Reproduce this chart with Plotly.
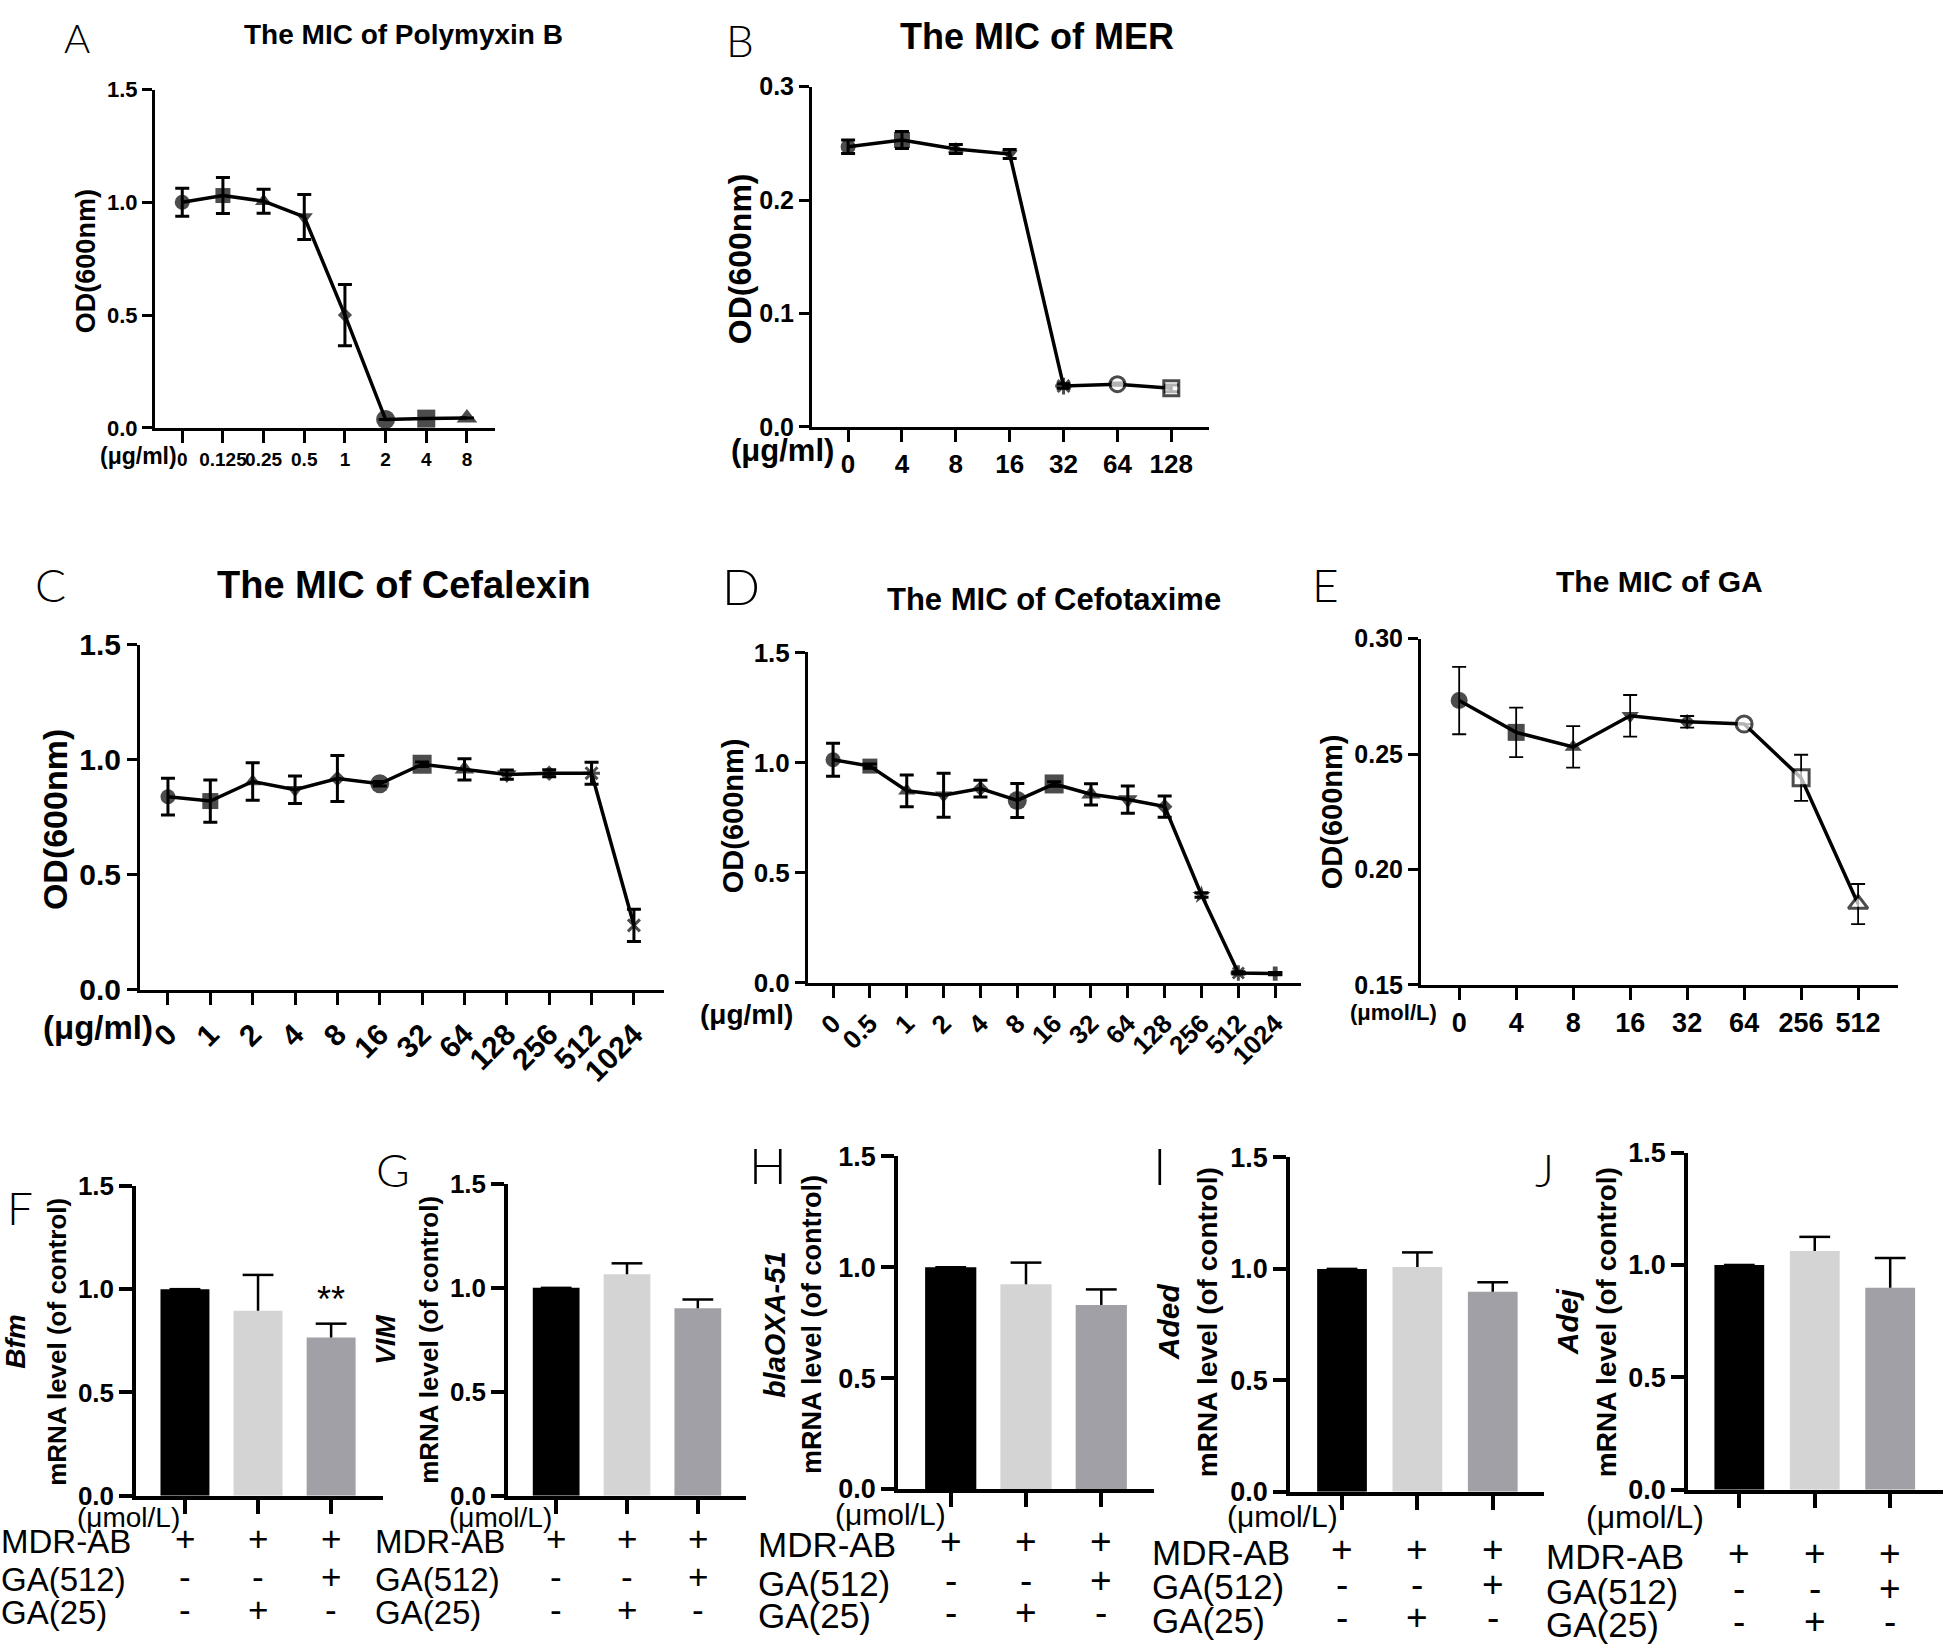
import plotly.graph_objects as go

W, H = 1944, 1651
FONT = "Liberation Sans, Arial, Helvetica, sans-serif"
LFONT = "Lato, Liberation Sans, sans-serif"

# ---------------- data ----------------
a_conc = ["0", "0.125", "0.25", "0.5", "1", "2", "4", "8"]
a_od = [1.00, 1.03, 1.005, 0.935, 0.50, 0.037, 0.041, 0.044]
a_err = [0.062, 0.08, 0.053, 0.10, 0.136, 0.0, 0.0, 0.0]

b_conc = ["0", "4", "8", "16", "32", "64", "128"]
b_od = [0.247, 0.253, 0.245, 0.2405, 0.036, 0.0376, 0.034]
b_err = [0.006, 0.0075, 0.004, 0.004, 0.002, 0.001, 0.003]

c_conc = ["0", "1", "2", "4", "8", "16", "32", "64", "128", "256", "512", "1024"]
c_od = [0.839, 0.82, 0.905, 0.869, 0.918, 0.895, 0.98, 0.958, 0.935, 0.941, 0.941, 0.28]
c_err = [0.08, 0.092, 0.081, 0.06, 0.10, 0.01, 0.01, 0.046, 0.02, 0.015, 0.048, 0.07]

d_conc = ["0", "0.5", "1", "2", "4", "8", "16", "32", "64", "128", "256", "512", "1024"]
d_od = [1.013, 0.984, 0.872, 0.852, 0.882, 0.828, 0.903, 0.856, 0.832, 0.80, 0.399, 0.045, 0.042]
d_err = [0.075, 0.01, 0.072, 0.10, 0.038, 0.077, 0.01, 0.048, 0.062, 0.048, 0.01, 0.005, 0.005]

e_conc = ["0", "4", "8", "16", "32", "64", "256", "512"]
e_od = [0.2732, 0.2594, 0.2531, 0.2666, 0.264, 0.263, 0.2397, 0.185]
e_err = [0.0146, 0.0107, 0.009, 0.009, 0.0025, 0.0, 0.010, 0.0087]

bar_groups = ["MDR-AB", "MDR-AB+GA(25)", "MDR-AB+GA(512)"]
row_names = ["MDR-AB", "GA(512)", "GA(25)"]
row_signs = [["+", "+", "+"], ["-", "-", "+"], ["-", "+", "-"]]

bfm = [1.0, 0.895, 0.766]
bfm_err = [0.0, 0.174, 0.067]
vim = [1.0, 1.066, 0.902]
vim_err = [0.0, 0.052, 0.042]
oxa = [1.0, 0.923, 0.830]
oxa_err = [0.0, 0.098, 0.070]
aded = [1.0, 1.009, 0.898]
aded_err = [0.0, 0.065, 0.042]
adej = [1.0, 1.062, 0.899]
adej_err = [0.0, 0.063, 0.132]

bar_colors = ["#000000", "#d4d4d4", "#a0a0a6"]

# ---------------- helpers ----------------
layout = dict(width=W, height=H, margin=dict(l=0, r=0, t=0, b=0), autosize=False,
              paper_bgcolor="white", plot_bgcolor="white", showlegend=False)
annotations = []
fig = go.Figure()
_count = [0]


def make_axes(x0, x1, ytop, ybot, cats, padl, padr, yr, dtick, fmt, yfs, xfs,
              xang=0, xlabels=True, lw=3, ylen=10, xlen=12):
    _count[0] += 1
    n = _count[0]
    s = "" if n == 1 else str(n)
    layout["xaxis" + s] = dict(
        domain=[x0 / W, x1 / W], anchor="y" + s, type="category",
        range=[-padl, len(cats) - 1 + padr], tickmode="array", tickvals=cats, ticktext=cats,
        showline=True, linecolor="black", linewidth=lw, ticks="outside", tickcolor="black",
        tickwidth=lw, ticklen=xlen, showgrid=False, zeroline=False,
        showticklabels=xlabels, tickangle=xang,
        tickfont=dict(family=FONT, size=xfs, color="black", weight="bold"))
    layout["yaxis" + s] = dict(
        domain=[1 - ybot / H, 1 - ytop / H], anchor="x" + s, range=yr, tick0=yr[0],
        dtick=dtick, tickformat=fmt, showline=True, linecolor="black", linewidth=lw,
        ticks="outside", tickcolor="black", tickwidth=lw, ticklen=ylen,
        showgrid=False, zeroline=False,
        tickfont=dict(family=FONT, size=yfs, color="black", weight="bold"))
    return "x" + s, "y" + s


def txt(s, x, y, size, bold=False, italic=False, angle=0, xanchor="center",
        yanchor="middle", family=FONT, weight=None):
    t = s
    if italic:
        t = "<i>" + t + "</i>"
    if bold:
        t = "<b>" + t + "</b>"
    f = dict(family=family, size=size, color="black")
    if weight is not None:
        f["weight"] = weight
    annotations.append(dict(text=t, x=x / W, y=1 - y / H, xref="paper", yref="paper",
                            showarrow=False, font=f, textangle=angle,
                            xanchor=xanchor, yanchor=yanchor, borderpad=0))


def line_panel(cats, vals, errs, syms, sizes, cols, mlw, axes, ethick=3, ewidth=7):
    xa, ya = axes
    fig.add_trace(go.Scatter(
        x=cats, y=vals, mode="lines+markers", xaxis=xa, yaxis=ya,
        line=dict(color="black", width=3.5),
        marker=dict(symbol=syms, size=sizes, color=cols, line=dict(color="black", width=mlw)),
        error_y=dict(type="data", array=errs, visible=True, color="black",
                     thickness=ethick, width=ewidth),
        cliponaxis=False, hoverinfo="skip"))


def bar_panel(vals, errs, axes, bw):
    xa, ya = axes
    fig.add_trace(go.Bar(
        x=bar_groups, y=vals, width=bw, xaxis=xa, yaxis=ya,
        marker=dict(color=bar_colors, line=dict(width=0)),
        error_y=dict(type="data", array=errs, arrayminus=[0] * len(errs), symmetric=False,
                     color="black", thickness=2.5, width=0, visible=True),
        hoverinfo="skip"))
    fig.add_trace(go.Scatter(
        x=bar_groups, y=[v + e for v, e in zip(vals, errs)], mode="markers",
        xaxis=xa, yaxis=ya,
        marker=dict(symbol="line-ew-open", size=22, color="black",
                    line=dict(color="black", width=2.5)),
        cliponaxis=False, hoverinfo="skip"))


# ---------------- panel A ----------------
axA = make_axes(155, 495, 75, 420, a_conc, 0.67, 0.69, [0, 1.5], 0.5, ".1f", 22, 19)
line_panel(a_conc, a_od, a_err,
           ["circle", "square", "triangle-up", "triangle-down", "diamond", "circle", "square", "triangle-up"],
           [15, 15, 15, 15, 11, 19, 18, 18], ["black"] * 8, [0] * 8, axA)
txt("A", 77, 22, 40, family=LFONT, weight=300)
txt("The MIC of Polymyxin B", 403, 19, 28, bold=True)
txt("OD(600nm)", 86, 250, 27, bold=True, angle=-90)
txt("(μg/ml)", 138, 449, 23, bold=True)

# ---------------- panel B ----------------
axB = make_axes(812, 1209, 72, 419, b_conc, 0.67, 0.70, [0, 0.3], 0.1, ".1f", 25, 26)
line_panel(b_conc, b_od, b_err,
           ["circle", "square", "triangle-up", "triangle-down", "asterisk-open", "circle", "square"],
           [15, 16, 14, 14, 14, 15, 15],
           ["black", "black", "black", "black", "black", "white", "white"],
           [0, 0, 0, 0, 3, 3, 3], axB)
txt("B", 740, 24, 44, family=LFONT, weight=300)
txt("The MIC of MER", 1037, 21, 36, bold=True)
txt("OD(600nm)", 740, 248, 32, bold=True, angle=-90)
txt("(μg/ml)", 782, 443, 31, bold=True)

# ---------------- panel C ----------------
axC = make_axes(140, 664, 641, 993, c_conc, 0.66, 0.71, [0, 1.5], 0.5, ".1f", 30, 30, xang=-45)
line_panel(c_conc, c_od, c_err,
           ["circle", "square", "triangle-up", "triangle-down", "diamond", "circle", "square",
            "triangle-up", "triangle-down", "diamond", "asterisk-open", "x-thin-open"],
           [15, 16, 15, 15, 12, 19, 19, 17, 17, 12, 14, 12], ["black"] * 12,
           [0] * 10 + [3, 3], axC)
txt("C", 50, 580, 46, family=LFONT, weight=300)
txt("The MIC of Cefalexin", 404, 580, 38, bold=True)
txt("OD(600nm)", 55, 820, 34, bold=True, angle=-90)
txt("(μg/ml)", 98, 1031, 33, bold=True)

# ---------------- panel D ----------------
axD = make_axes(808, 1301, 649, 986, d_conc, 0.68, 0.70, [0, 1.5], 0.5, ".1f", 26, 26, xang=-45)
line_panel(d_conc, d_od, d_err,
           ["circle", "square", "triangle-up", "triangle-down", "diamond", "circle", "square",
            "triangle-up", "triangle-down", "diamond", "star", "asterisk-open", "cross"],
           [15, 15, 15, 15, 12, 19, 19, 17, 17, 12, 14, 13, 12], ["black"] * 13,
           [0] * 11 + [3, 0], axD)
txt("D", 741, 581, 50, family=LFONT, weight=300)
txt("The MIC of Cefotaxime", 1054, 595, 31, bold=True)
txt("OD(600nm)", 733, 816, 29, bold=True, angle=-90)
txt("(μg/ml)", 746, 1018, 28, bold=True)

# ---------------- panel E ----------------
axE = make_axes(1421, 1898, 635, 988, e_conc, 0.67, 0.70, [0.15, 0.30], 0.05, ".2f", 25, 27)
line_panel(e_conc, e_od, e_err,
           ["circle", "square", "triangle-up", "triangle-down", "diamond", "circle", "square", "triangle-up"],
           [17, 17, 15, 15, 12, 16, 16, 17],
           ["black"] * 5 + ["white"] * 3, [0] * 5 + [3] * 3, axE, ethick=1.8, ewidth=7)
txt("E", 1325, 580, 46, family=LFONT, weight=300)
txt("The MIC of GA", 1659, 577, 30, bold=True)
txt("OD(600nm)", 1332, 812, 29, bold=True, angle=-90)
txt("(μmol/L)", 1393, 1016, 22, bold=True)

# ---------------- bar panels ----------------
bar_specs = [
    dict(letter="F", gene="Bfm", vals=bfm, errs=bfm_err, x0=136, x1=383, ytop=1193, ybot=1509,
         padl=0.67, padr=0.71, bw=0.67, lpos=(20, 1215), lsize=46, gx=16, mx=57, gy=1352,
         unit=(128, 1531), namex=0, rows=(1556, 1594, 1628), fs=33, ufs=28, yfs=26, tfs=26),
    dict(letter="G", gene="VIM", vals=vim, errs=vim_err, x0=508, x1=746, ytop=1191, ybot=1509,
         padl=0.68, padr=0.68, bw=0.66, lpos=(393, 1176), lsize=46, gx=386, mx=429, gy=1350,
         unit=(500, 1531), namex=374, rows=(1556, 1594, 1628), fs=33, ufs=28, yfs=26, tfs=26),
    dict(letter="H", gene="blaOXA-51", vals=oxa, errs=oxa_err, x0=898, x1=1154, ytop=1163, ybot=1502,
         padl=0.70, padr=0.70, bw=0.68, lpos=(768, 1172), lsize=50, gx=775, mx=812, gy=1335,
         unit=(890, 1528), namex=757, rows=(1559, 1598, 1631), fs=35, ufs=30, yfs=27, tfs=27),
    dict(letter="I", gene="Aded", vals=aded, errs=aded_err, x0=1290, x1=1544, ytop=1164, ybot=1505,
         padl=0.69, padr=0.68, bw=0.66, lpos=(1160, 1172), lsize=52, gx=1168, mx=1207, gy=1332,
         unit=(1282, 1530), namex=1151, rows=(1567, 1602, 1636), fs=35, ufs=30, yfs=27, tfs=28),
    dict(letter="J", gene="Adej", vals=adej, errs=adej_err, x0=1688, x1=1943, ytop=1159, ybot=1503,
         padl=0.68, padr=0.70, bw=0.66, lpos=(1544, 1176), lsize=46, gx=1567, mx=1606, gy=1332,
         unit=(1645, 1531), namex=1545, rows=(1571, 1607, 1640), fs=35, ufs=32, yfs=27, tfs=28),
]

for sp in bar_specs:
    ax = make_axes(sp["x0"], sp["x1"], sp["ytop"], sp["ybot"], bar_groups, sp["padl"], sp["padr"],
                   [0, 1.5], 0.5, ".1f", sp["yfs"], 20, xlabels=False, lw=3.5, ylen=13, xlen=14)
    bar_panel(sp["vals"], sp["errs"], ax, sp["bw"])
    txt(sp["letter"], sp["lpos"][0], sp["lpos"][1], sp["lsize"], family=LFONT, weight=300)
    txt(sp["gene"], sp["gx"], sp["gy"], sp["tfs"] + 2, bold=True, italic=True, angle=-90)
    txt("mRNA level (of control)", sp["mx"], sp["gy"], sp["tfs"], bold=True, angle=-90)
    txt("(μmol/L)", sp["unit"][0], sp["unit"][1], sp["ufs"])
    for r, name in enumerate(row_names):
        txt(name, sp["namex"], sp["rows"][r], sp["fs"], xanchor="left")
        for i, sign in enumerate(row_signs[r]):
            annotations.append(dict(text=sign, x=i, y=1 - (sp["rows"][r] - 3) / H, xref=ax[0],
                                    yref="paper", showarrow=False, xanchor="center",
                                    yanchor="middle", borderpad=0,
                                    font=dict(family=FONT, size=sp["fs"] + 2, color="black")))
    if sp["letter"] == "F":
        annotations.append(dict(text="**", x=2, y=sp["vals"][2] + sp["errs"][2], xref=ax[0],
                                yref=ax[1], showarrow=False, xanchor="center", yanchor="bottom",
                                yshift=2, font=dict(family=FONT, size=36, color="black")))

layout["annotations"] = annotations
fig.update_layout(**layout)
fig.write_html("out.html", config=dict(displayModeBar=False),
               post_script="document.body.style.margin='0';document.body.style.overflow='hidden';")
